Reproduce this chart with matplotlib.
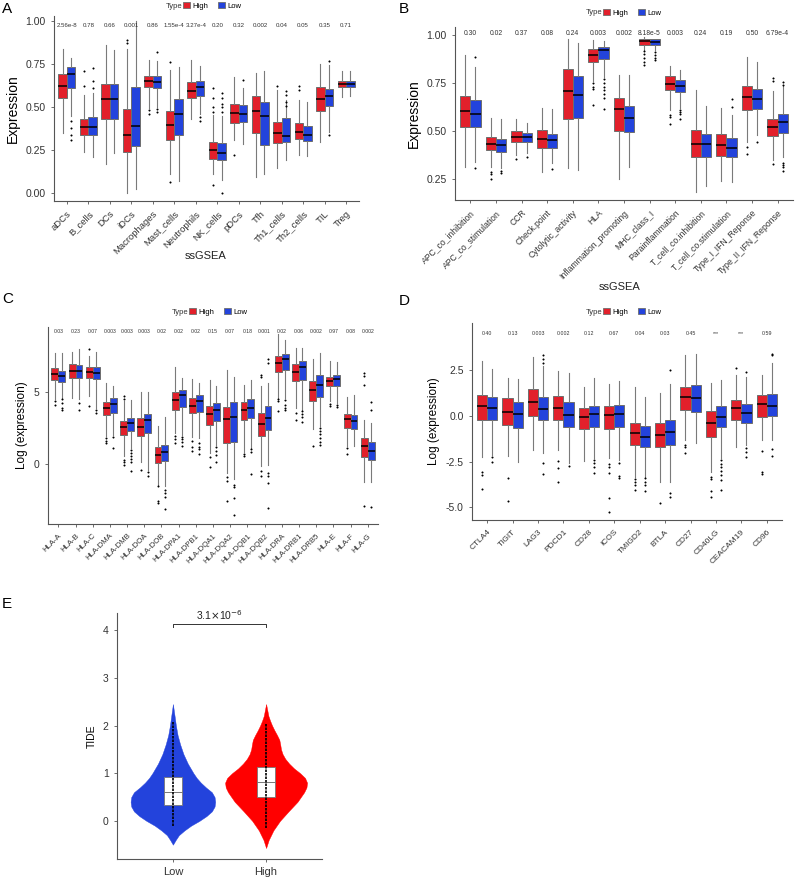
import numpy as np
import matplotlib
matplotlib.use("Agg")
import matplotlib.pyplot as plt
from matplotlib.patches import Patch
from matplotlib.ticker import FormatStrFormatter

plt.rcParams['font.family'] = ['Liberation Sans', 'DejaVu Sans']

RED = '#E2202B'
BLUE = '#2343DC'

# ---------- panel A : immune cells (ssGSEA) ----------
a_cats = ['aDCs', 'B_cells', 'DCs', 'iDCs', 'Macrophages', 'Mast_cells', 'Neutrophils',
          'NK_cells', 'pDCs', 'Tfh', 'Th1_cells', 'Th2_cells', 'TIL', 'Treg']
a_pvals = ['2.56e-8', '0.78', '0.66', '0.001', '0.86', '1.55e-4', '3.27e-4',
           '0.20', '0.32', '0.002', '0.04', '0.05', '0.35', '0.71']
# [whisker low, q1, median, q3, whisker high]
a_high = [[0.35, 0.55, 0.625, 0.695, 0.835], [0.24, 0.336, 0.384, 0.433, 0.57],
          [0.167, 0.43, 0.546, 0.637, 0.86], [0.0, 0.239, 0.34, 0.49, 0.835],
          [0.497, 0.614, 0.654, 0.683, 0.773], [0.113, 0.31, 0.398, 0.476, 0.715],
          [0.429, 0.55, 0.596, 0.645, 0.773], [0.113, 0.198, 0.252, 0.297, 0.452],
          [0.307, 0.408, 0.468, 0.52, 0.672], [0.093, 0.351, 0.476, 0.565, 0.697],
          [0.148, 0.291, 0.351, 0.415, 0.6], [0.223, 0.315, 0.353, 0.408, 0.54],
          [0.297, 0.478, 0.548, 0.614, 0.75], [0.559, 0.616, 0.633, 0.652, 0.707]]
a_low = [[0.45, 0.608, 0.693, 0.734, 0.788], [0.21, 0.336, 0.384, 0.443, 0.58],
         [0.23, 0.43, 0.544, 0.637, 0.83], [0.025, 0.274, 0.392, 0.614, 1.0],
         [0.50, 0.61, 0.648, 0.68, 0.77], [0.068, 0.34, 0.462, 0.548, 0.734],
         [0.462, 0.565, 0.619, 0.654, 0.738], [0.074, 0.194, 0.231, 0.291, 0.45],
         [0.287, 0.414, 0.46, 0.51, 0.608], [0.113, 0.28, 0.447, 0.532, 0.709],
         [0.194, 0.295, 0.334, 0.435, 0.54], [0.216, 0.305, 0.34, 0.39, 0.53],
         [0.353, 0.505, 0.565, 0.606, 0.742], [0.565, 0.618, 0.635, 0.652, 0.709]]
a_high_out = [[], [0.71, 0.62], [], [0.893, 0.87], [0.48, 0.46], [0.763, 0.064], [],
              [0.61, 0.55, 0.50, 0.47, 0.049], [0.22], [], [0.62], [0.62, 0.60], [], []]
a_low_out = [[0.42, 0.38, 0.34, 0.31], [0.73, 0.65, 0.61], [], [], [0.82, 0.49, 0.47], [],
             [0.44, 0.42], [0.58, 0.55, 0.52, 0.50, 0.47, 0.0], [0.656], [],
             [0.594, 0.57, 0.53, 0.505], [], [0.769, 0.336], []]

# ---------- panel B : immune functions (ssGSEA) ----------
b_cats = ['APC_co_inhibition', 'APC_co_stimulation', 'CCR', 'Check.point',
          'Cytolytic_activity', 'HLA', 'Inflammation_promoting', 'MHC_class_I',
          'Parainflammation', 'T_cell_co.inhibition', 'T_cell_co.stimulation',
          'Type_I_IFN_Reponse', 'Type_II_IFN_Reponse']
b_pvals = ['0.30', '0.02', '0.37', '0.08', '0.24', '0.003', '0.002', '8.18e-5',
           '0.003', '0.24', '0.19', '0.50', '6.79e-4']
b_high = [[0.311, 0.521, 0.601, 0.681, 0.892], [0.314, 0.399, 0.432, 0.467, 0.566],
          [0.375, 0.443, 0.47, 0.498, 0.559], [0.286, 0.413, 0.458, 0.503, 0.62],
          [0.306, 0.561, 0.705, 0.823, 0.977], [0.76, 0.856, 0.894, 0.925, 0.974],
          [0.248, 0.497, 0.611, 0.67, 0.79], [0.922, 0.948, 0.965, 0.979, 0.988],
          [0.609, 0.71, 0.745, 0.783, 0.835], [0.18, 0.363, 0.431, 0.502, 0.714],
          [0.241, 0.37, 0.425, 0.481, 0.618], [0.444, 0.609, 0.675, 0.731, 0.884],
          [0.349, 0.474, 0.519, 0.563, 0.705]]
b_low = [[0.34, 0.521, 0.589, 0.661, 0.83], [0.306, 0.391, 0.425, 0.458, 0.56],
         [0.384, 0.441, 0.47, 0.491, 0.543], [0.331, 0.413, 0.45, 0.484, 0.616],
         [0.297, 0.564, 0.684, 0.786, 0.957], [0.78, 0.873, 0.918, 0.936, 0.969],
         [0.314, 0.495, 0.566, 0.628, 0.792], [0.918, 0.948, 0.963, 0.979, 0.979],
         [0.618, 0.701, 0.734, 0.764, 0.818], [0.215, 0.366, 0.431, 0.484, 0.63],
         [0.236, 0.363, 0.411, 0.465, 0.583], [0.479, 0.613, 0.668, 0.72, 0.858],
         [0.363, 0.491, 0.545, 0.587, 0.731]]
b_high_out = [[], [0.288, 0.275, 0.25], [0.352], [], [], [0.748, 0.73, 0.715, 0.636], [],
              [0.913, 0.90, 0.88, 0.86, 0.844], [0.583, 0.57, 0.535], [], [], [0.415, 0.38],
              [0.774, 0.76, 0.328]]
b_low_out = [[0.882, 0.306], [0.29, 0.28], [0.366], [0.302], [],
             [0.772, 0.75, 0.73, 0.71, 0.69, 0.67, 0.613], [], [0.91, 0.895, 0.88, 0.87],
             [0.61, 0.60, 0.59, 0.56], [], [0.665, 0.622], [0.441],
             [0.755, 0.74, 0.332, 0.32, 0.31, 0.292]]

# ---------- panel C : HLA genes ----------
c_cats = ['HLA-A', 'HLA-B', 'HLA-C', 'HLA-DMA', 'HLA-DMB', 'HLA-DOA', 'HLA-DOB',
          'HLA-DPA1', 'HLA-DPB1', 'HLA-DQA1', 'HLA-DQA2', 'HLA-DQB1', 'HLA-DQB2',
          'HLA-DRA', 'HLA-DRB1', 'HLA-DRB5', 'HLA-E', 'HLA-F', 'HLA-G']
c_pvals = ['0.03', '0.23', '0.07', '0.003', '0.003', '0.003', '0.02', '0.02', '0.02',
           '0.15', '0.07', '0.18', '0.001', '0.02', '0.06', '0.002', '0.97', '0.08', '0.002']
c_high = [[4.47, 5.79, 6.27, 6.67, 7.71], [4.58, 5.93, 6.46, 6.94, 7.78],
          [4.70, 5.95, 6.39, 6.71, 7.48], [1.92, 3.36, 3.89, 4.33, 5.58],
          [0.53, 2.01, 2.59, 3.01, 4.35], [0.12, 1.92, 2.57, 3.19, 5.0],
          [-1.44, 0.07, 0.60, 1.16, 2.64], [2.15, 3.77, 4.42, 4.98, 6.71],
          [1.87, 3.50, 4.05, 4.58, 5.90], [0.76, 2.73, 3.47, 4.05, 5.81],
          [-0.63, 1.46, 3.13, 3.96, 6.55], [0.83, 3.03, 3.75, 4.31, 5.51],
          [-0.16, 1.97, 2.78, 3.52, 5.39], [4.58, 6.37, 7.01, 7.52, 8.98],
          [3.89, 5.74, 6.39, 6.94, 8.06], [2.45, 4.35, 5.16, 5.74, 7.25],
          [4.35, 5.39, 5.74, 6.04, 7.13], [1.27, 2.50, 3.13, 3.43, 4.65],
          [-1.23, 0.49, 1.23, 1.81, 3.08]]
c_low = [[4.58, 5.69, 6.13, 6.46, 7.71], [4.47, 5.93, 6.46, 6.85, 8.0],
         [3.89, 5.86, 6.32, 6.69, 7.75], [2.0, 3.52, 4.14, 4.58, 5.39],
         [1.11, 2.29, 2.85, 3.19, 4.42], [-0.39, 2.15, 3.08, 3.47, 5.0],
         [-1.55, 0.21, 0.83, 1.34, 3.26], [2.04, 3.96, 4.75, 5.16, 5.97],
         [1.81, 3.61, 4.38, 4.79, 5.63], [1.34, 3.01, 3.73, 4.24, 5.44],
         [-1.04, 1.50, 3.26, 4.28, 6.02], [1.11, 3.19, 3.91, 4.51, 5.79],
         [-0.05, 2.34, 3.19, 4.05, 5.58], [4.58, 6.55, 7.25, 7.66, 8.63],
         [3.77, 5.81, 6.74, 7.13, 8.06], [2.62, 4.63, 5.51, 6.20, 7.71],
         [4.24, 5.44, 5.86, 6.16, 7.06], [1.23, 2.43, 3.01, 3.36, 4.81],
         [-1.27, 0.30, 0.88, 1.50, 2.85]]
c_high_out = [[4.35, 4.12], [], [7.99, 4.05], [1.80, 1.60, 1.46], [4.70, 4.51, 0.30, 0.10, -0.09],
              [-0.44], [-1.55, -2.6, -2.7], [1.92, 1.70, 1.46], [1.57, 1.20, 0.88], [0.46, -0.20],
              [-0.9, -1.2, -2.6], [0.72, 0.58], [6.18, 6.04, -0.51, -0.86], [4.47, 4.35, 3.66],
              [3.54, 3.03], [1.27], [4.19, 4.0], [1.11, 0.72], [6.3, 6.1, 5.5, -2.89]]
c_low_out = [[4.47, 4.2, 3.9, 3.77], [4.24, 3.77], [3.77, 3.54], [1.87, 1.09],
             [0.95, 0.75, 0.55, 0.35, 0.10, -0.51], [-0.58, -0.81], [-1.78, -2.0, -2.3, -3.12],
             [1.90, 1.70, 1.50, 1.27], [1.46, 1.20, 1.0, 0.72], [1.18, 0.90, 0.60, 0.16],
             [-1.44, -1.62, -2.35, -3.56], [1.0, 0.8, -0.67], [7.25, 7.01, -0.62, -0.86, -1.3, -3.06],
             [4.42, 4.1, 3.9, 3.77], [3.66, 3.45, 3.26, 2.9], [2.5, 2.3, 2.1, 1.8, 1.5, 1.32],
             [4.12, 3.96], [], [4.28, 3.77, -2.99]]

# ---------- panel D : immune checkpoint genes ----------
d_cats = ['CTLA4', 'TIGIT', 'LAG3', 'PDCD1', 'CD28', 'ICOS', 'TMIGD2', 'BTLA',
          'CD27', 'CD40LG', 'CEACAM19', 'CD96']
d_pvals = ['0.40', '0.13', '0.003', '0.002', '0.12', '0.67', '0.04', '0.03', '0.45',
           '***', '***', '0.59']
d_high = [[-2.22, -0.22, 0.53, 1.13, 3.02], [-2.17, -0.46, 0.24, 0.97, 2.09],
          [-1.86, 0.0, 0.75, 1.46, 3.24], [-1.86, -0.22, 0.42, 1.09, 2.48],
          [-2.46, -0.73, -0.05, 0.46, 1.60], [-2.31, -0.69, 0.04, 0.56, 1.75],
          [-3.32, -1.57, -0.91, -0.35, 1.57], [-3.61, -1.71, -1.06, -0.40, 1.24],
          [-1.31, 0.36, 1.06, 1.60, 3.33], [-3.04, -1.17, -0.35, 0.29, 1.79],
          [-1.71, -0.22, 0.42, 0.87, 2.24], [-1.31, -0.04, 0.66, 1.13, 2.24]]
d_low = [[-2.13, -0.22, 0.42, 1.02, 2.57], [-2.51, -0.64, 0.11, 0.75, 2.06],
         [-2.04, -0.22, 0.38, 1.06, 2.75], [-2.55, -0.58, 0.05, 0.77, 2.37],
         [-2.31, -0.62, 0.11, 0.55, 2.11], [-2.40, -0.60, 0.09, 0.62, 1.93],
         [-3.32, -1.68, -1.13, -0.56, 1.06], [-3.59, -1.58, -0.86, -0.22, 1.75],
         [-1.49, 0.24, 1.0, 1.69, 3.39], [-2.31, -0.62, -0.04, 0.58, 2.0],
         [-1.58, -0.35, 0.16, 0.69, 2.15], [-1.31, 0.02, 0.58, 1.20, 2.91]]
d_high_out = [[-3.04, -3.2, -4.0], [-3.41, -4.63], [], [-2.46, -2.82, -3.62], [],
              [-2.64, -2.8, -3.1, -4.5, -5.23], [-3.46, -3.6, -3.8, -4.04], [-4.77],
              [-1.58, -1.7, -2.0], [-3.32, -3.46, -4.12, -4.41], [2.64], [-1.89, -3.08, -3.19]]
d_low_out = [[-2.22, -2.53], [], [3.37, 3.15, 2.91, -2.59, -3.17], [-2.73],
             [-2.4, -2.55, -2.8, -3.13], [-2.59, -3.3, -3.41], [-3.4, -3.6, -3.75, -4.08],
             [2.51, -4.23, -4.41], [], [-2.4, -2.6, -2.8, -3.0, -3.2, -3.5, -4.04],
             [2.42, -1.77, -1.95, -2.22], [3.42, 3.33, -1.8, -2.17]]

# ---------- panel E : TIDE violin ----------
e_groups = ['Low', 'High']
e_colors = [BLUE, '#FF0000']
e_low_y = [-0.50, -0.40, -0.30, -0.20, -0.10, 0.00, 0.10, 0.20, 0.30, 0.40, 0.50, 0.60,
           0.70, 0.80, 0.90, 1.00, 1.20, 1.40, 1.60, 1.80, 2.00, 2.20, 2.45]
e_low_w = [0.0, 0.03, 0.064, 0.124, 0.195, 0.284, 0.36, 0.418, 0.447, 0.454, 0.447, 0.418,
           0.355, 0.30, 0.255, 0.22, 0.16, 0.113, 0.078, 0.05, 0.032, 0.018, 0.0]
e_high_y = [-0.57, -0.40, -0.20, 0.00, 0.20, 0.40, 0.60, 0.70, 0.80, 0.90, 1.00, 1.10,
            1.20, 1.30, 1.40, 1.50, 1.60, 1.70, 1.80, 1.90, 2.00, 2.10, 2.20, 2.45]
e_high_w = [0.0, 0.028, 0.078, 0.149, 0.241, 0.337, 0.408, 0.433, 0.44, 0.418, 0.365, 0.30,
            0.248, 0.206, 0.177, 0.16, 0.152, 0.142, 0.117, 0.089, 0.064, 0.043, 0.025, 0.0]
e_box = [[0.33, 0.60, 0.92], [0.50, 0.81, 1.12]]   # q1, median, q3
e_points = [[-0.10, 2.10], [-0.15, 2.05]]          # range of the jittered points
e_pval = r'3.1$\times$10$^{-6}$'

W, H = 796, 886
fig = plt.figure(figsize=(W / 100, H / 100), dpi=100)


def rect(l, t, r, b):
    return [l / W, 1 - b / H, (r - l) / W, (b - t) / H]


def style(ax):
    for s in ['top', 'right']:
        ax.spines[s].set_visible(False)
    for s in ['left', 'bottom']:
        ax.spines[s].set_color('#555555')
        ax.spines[s].set_linewidth(0.8)
    ax.tick_params(colors='#555555', length=2.5, width=0.6, labelcolor='#333333')


def box_panel(ax, cats, high, low, high_out, low_out, pvals, p_y, p_size, xt_size):
    pos = np.arange(len(cats))
    for stats, outs, off, col in [(high, high_out, -0.2, RED), (low, low_out, 0.2, BLUE)]:
        bx = [dict(whislo=s[0], q1=s[1], med=s[2], q3=s[3], whishi=s[4], fliers=o)
              for s, o in zip(stats, outs)]
        ax.bxp(bx, positions=pos + off, widths=0.4, patch_artist=True, showcaps=False,
               manage_ticks=False,
               boxprops=dict(facecolor=col, edgecolor='#6e6e6e', linewidth=0.7),
               medianprops=dict(color='black', linewidth=1.1),
               whiskerprops=dict(color='#7a7a7a', linewidth=0.8),
               flierprops=dict(marker='o', markersize=1.2, markerfacecolor='black',
                               markeredgecolor='black', markeredgewidth=0.2))
    for i, p in enumerate(pvals):
        ax.text(pos[i], p_y, p, ha='center', va='center', fontsize=p_size, color='#333333')
    ax.set_xticks(pos)
    ax.set_xticklabels(cats, rotation=45, ha='right', rotation_mode='anchor',
                       fontsize=xt_size)
    ax.set_xlim(-0.6, len(cats) - 0.4)
    style(ax)


def legend_at(cx, cy):
    handles = [Patch(facecolor=RED, edgecolor='#6e6e6e', linewidth=0.6, label='High'),
               Patch(facecolor=BLUE, edgecolor='#6e6e6e', linewidth=0.6, label='Low')]
    fig.legend(handles=handles, loc='center', bbox_to_anchor=(cx / W, 1 - cy / H), ncol=2,
               frameon=False, fontsize=5.5, handlelength=1.0, handleheight=0.9,
               handletextpad=0.3, columnspacing=1.2)
    fig.text((cx - 30) / W, 1 - cy / H, 'Type', fontsize=5.5, ha='right', va='center',
             color='#333333')


# A
axA = fig.add_axes(rect(54, 16, 359, 201))
box_panel(axA, a_cats, a_high, a_low, a_high_out, a_low_out, a_pvals, 0.975, 4.4, 6.8)
axA.set_ylim(-0.047, 1.03)
axA.set_yticks([0, 0.25, 0.5, 0.75, 1.0])
axA.yaxis.set_major_formatter(FormatStrFormatter('%.2f'))
axA.tick_params(axis='y', labelsize=7.5)
axA.set_ylabel('Expression', fontsize=10)
fig.text(206 / W, 1 - 256 / H, 'ssGSEA', fontsize=8, ha='center', va='center',
         color='#222222')
legend_at(212, 6)

# B
axB = fig.add_axes(rect(455, 27, 793, 200))
box_panel(axB, b_cats, b_high, b_low, b_high_out, b_low_out, b_pvals, 1.008, 4.9, 6.2)
axB.set_ylim(0.14, 1.04)
axB.set_yticks([0.25, 0.5, 0.75, 1.0])
axB.yaxis.set_major_formatter(FormatStrFormatter('%.2f'))
axB.tick_params(axis='y', labelsize=7.5)
axB.set_ylabel('Expression', fontsize=10)
fig.text(620 / W, 1 - 287 / H, 'ssGSEA', fontsize=8, ha='center', va='center',
         color='#222222')
legend_at(632, 13)

# C
axC = fig.add_axes(rect(48, 327, 378, 524))
box_panel(axC, c_cats, c_high, c_low, c_high_out, c_low_out, c_pvals, 9.17, 3.7, 5.6)
axC.set_ylim(-4.17, 9.5)
axC.set_yticks([0, 5])
axC.tick_params(axis='y', labelsize=7.5)
axC.set_ylabel('Log (expression)', fontsize=8.5)
legend_at(218, 312)

# D
axD = fig.add_axes(rect(472, 323, 782, 520))
box_panel(axD, d_cats, d_high, d_low, d_high_out, d_low_out, d_pvals, 4.54, 3.8, 6.0)
axD.set_ylim(-5.69, 5.1)
axD.set_yticks([-5, -2.5, 0, 2.5])
axD.yaxis.set_major_formatter(FormatStrFormatter('%.1f'))
axD.tick_params(axis='y', labelsize=7.5)
axD.set_ylabel('Log (expression)', fontsize=8.5)
legend_at(632, 312)

# E
axE = fig.add_axes(rect(117, 613, 322, 859))
profiles = [(e_low_y, e_low_w), (e_high_y, e_high_w)]
for i, ((py, pw), col) in enumerate(zip(profiles, e_colors)):
    x = i + 1
    py, pw = np.array(py), np.array(pw)
    axE.fill_betweenx(py, x - pw, x + pw, color=col, linewidth=0.3, edgecolor=col, zorder=1)
    q1, med, q3 = e_box[i]
    axE.add_patch(plt.Rectangle((x - 0.1, q1), 0.2, q3 - q1, facecolor='white',
                                edgecolor='#777777', linewidth=0.6, zorder=2))
    axE.plot([x - 0.1, x + 0.1], [med, med], color='#777777', linewidth=0.7, zorder=3)
    axE.plot([x, x], e_points[i], color='black', linewidth=1.2, linestyle=(0, (1.5, 0.6)),
             zorder=4)
axE.plot([1, 1, 2, 2], [4.07, 4.12, 4.12, 4.07], color='#333333', linewidth=0.7)
axE.text(1.5, 4.17, e_pval, ha='center', va='bottom', fontsize=7.5, color='#222222')
axE.set_xlim(0.4, 2.6)
axE.set_ylim(-0.8, 4.36)
axE.set_xticks([1, 2])
axE.set_xticklabels(e_groups, fontsize=8)
axE.set_yticks([0, 1, 2, 3, 4])
axE.tick_params(axis='y', labelsize=7.5)
axE.set_ylabel('TIDE', fontsize=7.5)
style(axE)

# panel letters
for letter, x, y in [('A', 2, 2), ('B', 399, 2), ('C', 2, 292), ('D', 399, 294), ('E', 2, 597)]:
    fig.text(x / W, 1 - y / H, letter, fontsize=11, ha='left', va='top')

fig.savefig('out.png', dpi=100)
